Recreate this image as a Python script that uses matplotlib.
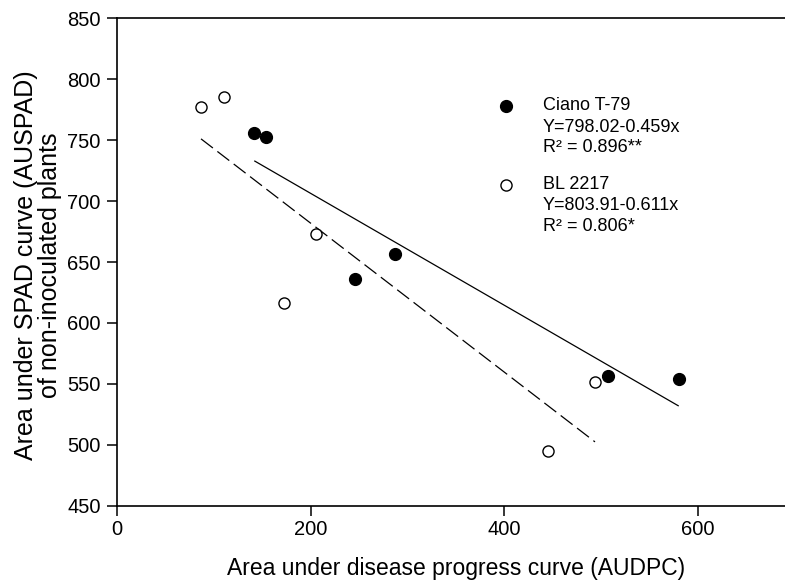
import matplotlib
matplotlib.use("Agg")
import matplotlib.pyplot as plt
import numpy as np

plt.rcParams['font.family'] = ['Liberation Sans', 'DejaVu Sans']

# AUDPC vs AUSPAD for two cultivars
ciano_x = [141.5, 153.3, 245.6, 286.6, 507.2, 580.0]
ciano_y = [755.7, 752.9, 635.9, 656.6, 556.8, 554.0]
bl_x = [86.5, 110.2, 172.5, 205.3, 444.6, 493.5]
bl_y = [777.5, 785.7, 616.7, 673.0, 495.3, 551.4]

# Regression coefficients (intercept, slope)
ciano_fit = (798.02, -0.459)
bl_fit = (803.91, -0.611)

legend_lines = [
    ["Ciano T-79", "Y=798.02-0.459x", "R\u00b2 = 0.896**"],
    ["BL 2217", "Y=803.91-0.611x", "R\u00b2 = 0.806*"],
]

x_ticks = [0, 200, 400, 600]
y_ticks = [450, 500, 550, 600, 650, 700, 750, 800, 850]

W, H = 785, 581
fig = plt.figure(figsize=(W / 100, H / 100), dpi=100)
ax = fig.add_axes([0.1494, 0.1296, 0.8632, 0.8389])

# regression lines over each cultivar's data range
xc = np.array([min(ciano_x), max(ciano_x)])
ax.plot(xc, ciano_fit[0] + ciano_fit[1] * xc, color='black', lw=0.9, solid_capstyle='butt')
xb = np.array([min(bl_x), max(bl_x)])
ax.plot(xb, bl_fit[0] + bl_fit[1] * xb, color='black', lw=0.9, dashes=(12, 4.5))

ax.plot(ciano_x, ciano_y, 'o', color='black', ms=8.5, zorder=3)
ax.plot(bl_x, bl_y, 'o', mfc='white', mec='black', mew=1.0, ms=8, zorder=3)

ax.set_xlim(0, 700)
ax.set_ylim(450, 850)
ax.set_xticks(x_ticks)
ax.set_yticks(y_ticks)
ax.tick_params(axis='both', direction='out', width=1.1, labelsize=14.5)
ax.tick_params(axis='x', length=7, pad=3)
ax.tick_params(axis='y', length=7, pad=5)
for s in ['left', 'bottom', 'top']:
    ax.spines[s].set_linewidth(1.2)
ax.spines['right'].set_visible(False)

ax.set_xlabel("Area under disease progress curve (AUDPC)", fontsize=16.5, labelpad=13)
fig.text(38 / W, 1 - 265 / H, "Area under SPAD curve (AUSPAD)\nof non-inoculated plants",
         rotation=90, ha='center', va='center', multialignment='center',
         fontsize=18, linespacing=0.98)

# legend block placed in pixel positions, converted to data coordinates
def px_to_data(px, py):
    inv = ax.transData.inverted()
    return inv.transform(fig.transFigure.transform((px / W, 1 - py / H)))

fig.canvas.draw()
mx = 506
tx = 543
rows = [106, 127, 148, 185, 206, 227]
ax.plot(*px_to_data(mx, 106), 'o', color='black', ms=8.5, clip_on=False)
ax.plot(*px_to_data(mx, 185), 'o', mfc='white', mec='black', mew=1.0, ms=8, clip_on=False)
texts = legend_lines[0] + legend_lines[1]
for t, r in zip(texts, rows):
    x, y = px_to_data(tx, r)
    ax.text(x, y, t, fontsize=13, va='center', ha='left')

fig.savefig("out.png", dpi=100)
